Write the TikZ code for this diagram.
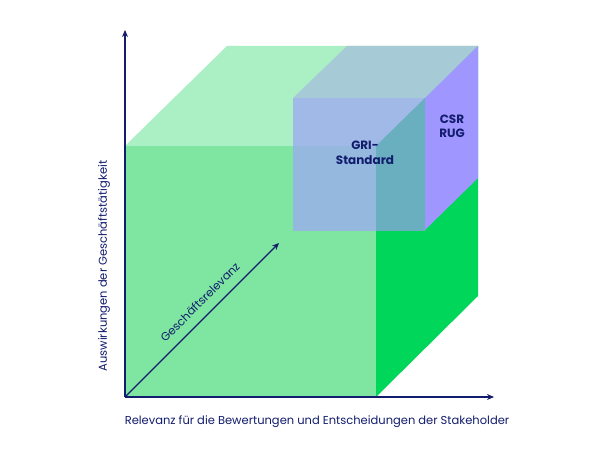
\documentclass[tikz,border=0pt]{standalone}
\usepackage{fontspec}
\setmainfont{Poppins}
\usetikzlibrary{arrows.meta}
\definecolor{navy}{HTML}{131D6E}
\definecolor{bigtop}{HTML}{ABEFC4}
\definecolor{bigfront}{HTML}{7EE6A0}
\definecolor{bigright}{HTML}{00D65A}
\definecolor{smalltop}{HTML}{A7CAD7}
\definecolor{sfrontA}{HTML}{A1B9E6}
\definecolor{sfrontB}{HTML}{94B8DE}
\definecolor{sfrontC}{HTML}{6AAFC0}
\definecolor{smallright}{HTML}{A096FF}
\tikzset{
  axis/.style={draw=navy,line width=1.8pt,-{Stealth[length=7pt,width=6pt]}},
  diagaxis/.style={draw=navy,line width=1.4pt,-{Stealth[length=7pt,width=6pt]}},
  axlabel/.style={text=navy,font=\fontsize{11.5}{13}\selectfont,inner sep=0pt},
  boxlabel/.style={text=navy,font=\fontsize{12}{14.5}\selectfont\bfseries,align=center,inner sep=0pt},
}
\begin{document}
\begin{tikzpicture}[x=1pt,y=-1pt]
\useasboundingbox (0,0) rectangle (599,449);
\fill[white] (0,0) rectangle (599,449);
% big cube corners
\coordinate (O) at (125,397);
\coordinate (FTL) at (125,146);
\coordinate (FTR) at (376,146);
\coordinate (FBR) at (376,397);
\coordinate (BTL) at (227,46);
\coordinate (BTR) at (478,46);
\coordinate (BBR) at (478,296);
% small cube corners
\coordinate (sFTL) at (293,98);
\coordinate (sFTR) at (425,98);
\coordinate (sFBR) at (425,230);
\coordinate (sFBL) at (293,230);
\coordinate (sBTL) at (347,46);
\coordinate (sBBR) at (478,178);
% big cube faces
\fill[bigtop] (FTL) -- (BTL) -- (BTR) -- (FTR) -- cycle;
\fill[bigfront] (FTL) -- (FTR) -- (FBR) -- (O) -- cycle;
\fill[bigright] (FTR) -- (BTR) -- (BBR) -- (FBR) -- cycle;
% small cube faces
\fill[smalltop] (sFTL) -- (sBTL) -- (BTR) -- (sFTR) -- cycle;
\fill[smallright] (sFTR) -- (BTR) -- (sBBR) -- (sFBR) -- cycle;
\begin{scope}
  \clip (sFTL) rectangle (sFBR);
  \fill[sfrontA] (sFTL) rectangle (sFBR);
  \fill[sfrontB] (FTL) -- (FTR) -- (FBR) -- (O) -- cycle;
  \fill[sfrontC] (FTR) -- (BTR) -- (BBR) -- (FBR) -- cycle;
\end{scope}
% axes
\coordinate (Ytip) at (125,30);
\coordinate (Xtip) at (494,397);
\coordinate (Dtip) at (279,243);
\draw[axis] (O) -- (Ytip);
\draw[axis] (O) -- (Xtip);
\draw[diagaxis] (O) -- (Dtip);
% labels
\node[axlabel] (xl) at (317,422) {Relevanz für die Bewertungen und Entscheidungen der Stakeholder};
\node[axlabel,rotate=90] (yl) at (104,266) {Auswirkungen der Geschäftstätigkeit};
\node[axlabel,rotate=45] (dl) at (200,302) {Geschäftsrelevanz};
\node[boxlabel] (gri) at (365,153) {GRI-\\Standard};
\node[boxlabel] (csr) at (452,126.5) {CSR\\RUG};
\end{tikzpicture}
\end{document}
